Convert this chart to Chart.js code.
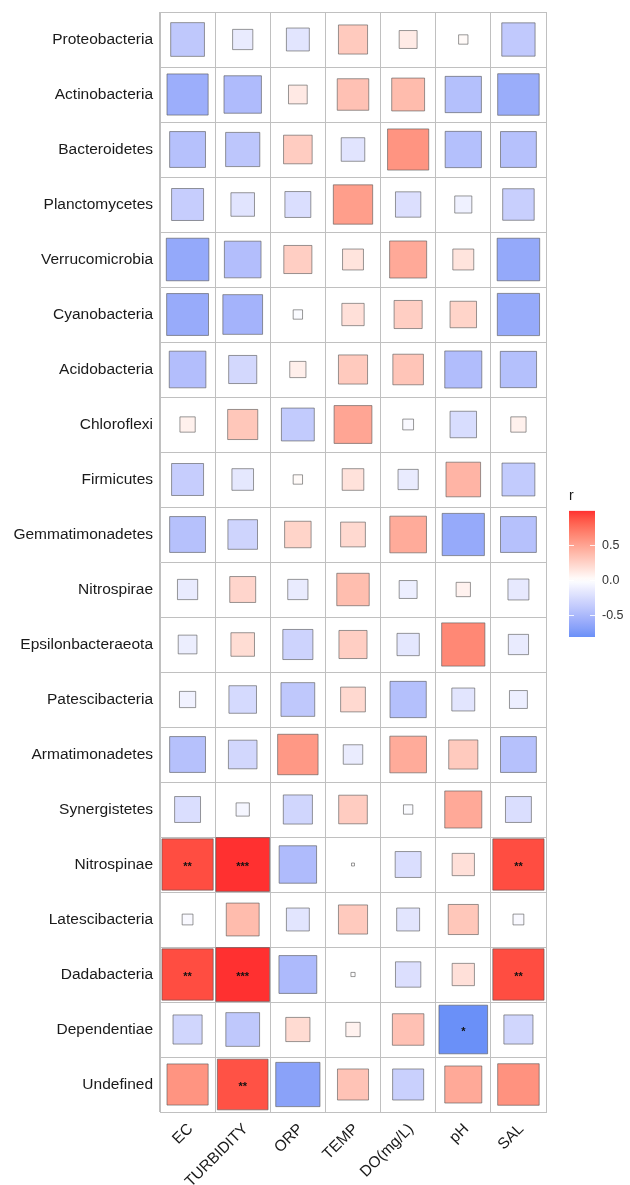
<!DOCTYPE html>
<html>
<head>
	<title>Phylum vs environment correlation</title>
	<script src="https://cdn.jsdelivr.net/npm/chart.js"></script>
	<style>
		body {
			margin: 0;
			background: #ffffff;
			font-family: "Liberation Sans", Arial, sans-serif;
		}
		#wrap {
			position: relative;
			width: 630px;
			height: 1185px;
		}
		#mainChart {
			position: absolute;
			left: 0;
			top: 0;
		}
		#keyChart {
			position: absolute;
			left: 566px;
			top: 486px;
		}
	</style>
</head>
<body>
	<div id="wrap">
		<canvas id="mainChart" width="630" height="1185"></canvas>
		<canvas id="keyChart" width="64" height="160"></canvas>
	</div>
	<script>
		// rows (top to bottom) and columns of the matrix
		var phyla = ['Proteobacteria', 'Actinobacteria', 'Bacteroidetes', 'Planctomycetes', 'Verrucomicrobia',
			'Cyanobacteria', 'Acidobacteria', 'Chloroflexi', 'Firmicutes', 'Gemmatimonadetes', 'Nitrospirae',
			'Epsilonbacteraeota', 'Patescibacteria', 'Armatimonadetes', 'Synergistetes', 'Nitrospinae',
			'Latescibacteria', 'Dadabacteria', 'Dependentiae', 'Undefined'];
		var factors = ['EC', 'TURBIDITY', 'ORP', 'TEMP', 'DO(mg/L)', 'pH', 'SAL'];

		// correlation r, one array per factor, in the order of phyla
		var rEC = [-0.39, -0.58, -0.44, -0.35, -0.62, -0.60, -0.46, 0.08, -0.35, -0.44, -0.14, -0.12, -0.09, -0.44, -0.23, 0.90, -0.04, 0.90, -0.29, 0.58];
		var rTurbidity = [-0.14, -0.48, -0.40, -0.19, -0.46, -0.54, -0.27, 0.31, -0.16, -0.30, 0.23, 0.19, -0.26, -0.28, -0.06, 0.99, 0.37, 0.99, -0.39, 0.88];
		var rORP = [-0.18, 0.12, 0.28, -0.23, 0.27, -0.03, 0.09, -0.37, 0.03, 0.24, -0.14, -0.31, -0.39, 0.56, -0.29, -0.48, -0.18, -0.49, 0.20, -0.67];
		var rTemp = [0.29, 0.34, -0.19, 0.53, 0.15, 0.17, 0.29, 0.49, 0.16, 0.21, 0.36, 0.27, 0.21, -0.13, 0.28, 0.003, 0.29, 0.006, 0.07, 0.33];
		var rDO = [0.11, 0.37, 0.58, -0.22, 0.47, 0.27, 0.32, -0.04, -0.14, 0.46, -0.11, -0.17, -0.45, 0.46, -0.03, -0.23, -0.18, -0.22, 0.34, -0.33];
		var rPH = [0.03, -0.45, -0.45, -0.10, 0.15, 0.24, -0.47, -0.24, 0.41, -0.61, 0.07, 0.64, -0.18, 0.29, 0.47, 0.17, 0.31, 0.17, -0.81, 0.47];
		var rSAL = [-0.38, -0.59, -0.44, -0.34, -0.62, -0.61, -0.45, 0.08, -0.37, -0.44, -0.15, -0.14, -0.11, -0.44, -0.23, 0.90, -0.04, 0.90, -0.29, 0.59];
		var rByFactor = [rEC, rTurbidity, rORP, rTemp, rDO, rPH, rSAL];

		// significance marks: [phylum, factor, label]
		var stars = [
			['Nitrospinae', 'EC', '**'], ['Nitrospinae', 'TURBIDITY', '***'], ['Nitrospinae', 'SAL', '**'],
			['Dadabacteria', 'EC', '**'], ['Dadabacteria', 'TURBIDITY', '***'], ['Dadabacteria', 'SAL', '**'],
			['Dependentiae', 'pH', '*'], ['Undefined', 'TURBIDITY', '**']
		];

		// colour key ticks
		var keyTicks = [-0.5, 0, 0.5];

		var labelFont = { family: '"Liberation Sans", Arial, sans-serif', size: 15.5 };
		var gridColour = '#c0c0c0';

		// ---- diverging colour scale, interpolated in CIE Lab like ggplot ----
		function toLin(c) { c = c / 255; return c <= 0.04045 ? c / 12.92 : Math.pow((c + 0.055) / 1.055, 2.4); }
		function fromLin(c) {
			c = c <= 0.0031308 ? 12.92 * c : 1.055 * Math.pow(c, 1 / 2.4) - 0.055;
			return Math.max(0, Math.min(255, Math.round(c * 255)));
		}
		function hexToLab(hex) {
			var r = toLin(parseInt(hex.substr(1, 2), 16));
			var g = toLin(parseInt(hex.substr(3, 2), 16));
			var b = toLin(parseInt(hex.substr(5, 2), 16));
			var X = (0.4124 * r + 0.3576 * g + 0.1805 * b) / 0.95047;
			var Y = 0.2126 * r + 0.7152 * g + 0.0722 * b;
			var Z = (0.0193 * r + 0.1192 * g + 0.9505 * b) / 1.08883;
			var f = function (t) { return t > 0.008856 ? Math.cbrt(t) : 7.787 * t + 16 / 116; };
			var fx = f(X), fy = f(Y), fz = f(Z);
			return [116 * fy - 16, 500 * (fx - fy), 200 * (fy - fz)];
		}
		function labToCss(L, a, b) {
			var fy = (L + 16) / 116, fx = fy + a / 500, fz = fy - b / 200;
			var inv = function (t) { return t * t * t > 0.008856 ? t * t * t : (t - 16 / 116) / 7.787; };
			var X = 0.95047 * inv(fx), Y = inv(fy), Z = 1.08883 * inv(fz);
			var r = 3.2406 * X - 1.5372 * Y - 0.4986 * Z;
			var g = -0.9689 * X + 1.8758 * Y + 0.0415 * Z;
			var bl = 0.0557 * X - 0.2040 * Y + 1.0570 * Z;
			return 'rgb(' + fromLin(r) + ',' + fromLin(g) + ',' + fromLin(bl) + ')';
		}
		var lowLab = hexToLab('#2a7af5');
		var midLab = hexToLab('#ffffff');
		var highLab = hexToLab('#ff3030');

		var allR = [].concat.apply([], rByFactor);
		var rMin = Math.min.apply(null, allR);
		var rMax = Math.max.apply(null, allR);
		var extent = Math.max(Math.abs(rMin), Math.abs(rMax));

		function colour(v) {
			var t = Math.min(1, Math.abs(v) / extent);
			var end = v < 0 ? lowLab : highLab;
			return labToCss(midLab[0] + (end[0] - midLab[0]) * t,
				midLab[1] + (end[1] - midLab[1]) * t,
				midLab[2] + (end[2] - midLab[2]) * t);
		}

		// ---- main matrix ----
		var points = [];
		factors.forEach(function (f, j) {
			phyla.forEach(function (p, i) {
				points.push({ x: f, y: p, v: rByFactor[j][i] });
			});
		});

		// square side ~ sqrt(|r|), so the area follows |r|
		function squareRadius(c) {
			var xs = c.chart.scales.x;
			if (!xs || !c.raw) return 0;
			var cell = xs.width / factors.length;
			var side = cell * 0.98 * Math.sqrt(Math.abs(c.raw.v));
			return side / Math.SQRT2;
		}

		var starPlugin = {
			id: 'stars',
			afterDatasetsDraw: function (chart) {
				var xs = chart.scales.x, ys = chart.scales.y, c = chart.ctx;
				c.save();
				c.fillStyle = '#111111';
				c.font = 'bold 11px "Liberation Sans", Arial, sans-serif';
				c.textAlign = 'center';
				c.textBaseline = 'middle';
				stars.forEach(function (s) {
					var x = xs.getPixelForValue(factors.indexOf(s[1]));
					var y = ys.getPixelForValue(phyla.indexOf(s[0]));
					c.fillText(s[2], x, y + 2);
				});
				c.restore();
			}
		};

		new Chart(document.getElementById('mainChart'), {
			type: 'scatter',
			data: {
				datasets: [{
					data: points,
					pointStyle: 'rect',
					pointRadius: squareRadius,
					backgroundColor: function (c) { return c.raw ? colour(c.raw.v) : '#fff'; },
					borderColor: 'rgba(85,85,85,0.6)',
					borderWidth: 1
				}]
			},
			options: {
				responsive: false,
				animation: false,
				events: [],
				layout: { padding: { left: 0, top: 12, right: 84, bottom: 0 } },
				scales: {
					x: {
						type: 'category',
						labels: factors,
						offset: true,
						grid: { offset: true, color: gridColour, drawTicks: false },
						border: { color: gridColour },
						ticks: { minRotation: 45, maxRotation: 45, padding: 8, labelOffset: 3, color: '#1a1a1a', font: labelFont },
						afterFit: function (s) { s.height = 73; s.paddingLeft = 0; s.paddingRight = 0; }
					},
					y: {
						type: 'category',
						labels: phyla,
						offset: true,
						grid: { offset: true, color: gridColour, drawTicks: false },
						border: { color: gridColour },
						ticks: { padding: 7, color: '#1a1a1a', font: labelFont },
						afterFit: function (s) { s.width = 160; s.paddingTop = 0; s.paddingBottom = 0; }
					}
				},
				plugins: { legend: { display: false }, tooltip: { enabled: false } }
			},
			plugins: [starPlugin]
		});

		// ---- colour key ----
		var keyTickPlugin = {
			id: 'keyTicks',
			afterDatasetsDraw: function (chart) {
				var ys = chart.scales.y, a = chart.chartArea, c = chart.ctx;
				c.save();
				c.strokeStyle = 'rgba(255,255,255,0.85)';
				c.lineWidth = 1;
				keyTicks.forEach(function (v) {
					var y = Math.round(ys.getPixelForValue(v)) + 0.5;
					c.beginPath();
					c.moveTo(a.left, y); c.lineTo(a.left + 5, y);
					c.moveTo(a.right - 5, y); c.lineTo(a.right, y);
					c.stroke();
				});
				c.restore();
			}
		};

		new Chart(document.getElementById('keyChart'), {
			type: 'bar',
			data: {
				labels: ['r'],
				datasets: [{
					data: [[rMin, rMax]],
					barPercentage: 1,
					categoryPercentage: 1,
					borderWidth: 0,
					backgroundColor: function (c) {
						var area = c.chart.chartArea;
						if (!area) return null;
						var g = c.chart.ctx.createLinearGradient(0, area.bottom, 0, area.top);
						for (var i = 0; i <= 30; i++) {
							g.addColorStop(i / 30, colour(rMin + (rMax - rMin) * i / 30));
						}
						return g;
					}
				}]
			},
			options: {
				responsive: false,
				animation: false,
				events: [],
				layout: { padding: { left: 3, right: 0, top: 0, bottom: 9 } },
				scales: {
					x: { display: false },
					y: {
						position: 'right',
						min: rMin,
						max: rMax,
						grid: { display: false, drawTicks: false },
						border: { display: false },
						afterBuildTicks: function (s) { s.ticks = keyTicks.map(function (v) { return { value: v }; }); },
						ticks: {
							padding: 7,
							color: '#333333',
							font: { family: '"Liberation Sans", Arial, sans-serif', size: 12.5 },
							callback: function (v) { return Number(v).toFixed(1); }
						},
						afterFit: function (s) { s.width = 35; s.paddingTop = 0; s.paddingBottom = 0; }
					}
				},
				plugins: {
					legend: { display: false },
					tooltip: { enabled: false },
					title: {
						display: true,
						text: 'r',
						align: 'start',
						color: '#1a1a1a',
						font: { family: '"Liberation Sans", Arial, sans-serif', size: 14, weight: 'normal' },
						padding: { top: 2, bottom: 6 }
					}
				}
			},
			plugins: [keyTickPlugin]
		});
	</script>
</body>
</html>
